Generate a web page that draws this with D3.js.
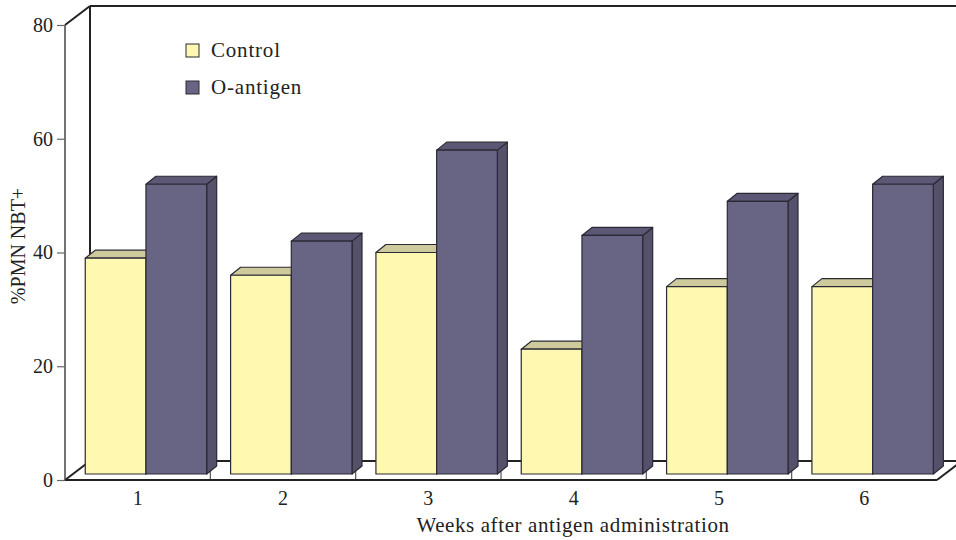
<!DOCTYPE html>
<html>
<head>
<meta charset="utf-8">
<script src="https://cdn.jsdelivr.net/npm/d3@7/dist/d3.min.js"></script>
<style>
  html, body { margin: 0; padding: 0; background: #fff; }
  svg { display: block; }
  text { font-family: "Liberation Serif", "Times New Roman", serif; fill: #222; }
</style>
</head>
<body>
<svg id="chart" width="956" height="540"></svg>
<script>
// ---- data ----
const weeks = ["1", "2", "3", "4", "5", "6"];
const seriesNames = ["Control", "O-antigen"];
const controlValues = [39, 36, 40, 23, 34, 34];
const oAntigenValues = [52, 42, 58, 43, 49, 52];
const yTicks = [0, 20, 40, 60, 80];
const xTitle = "Weeks after antigen administration";
const yTitle = "%PMN NBT+";

const colors = {
  "Control": { front: "#FFF8B0", top: "#CECA9C", side: "#BDB98C" },
  "O-antigen": { front: "#686484", top: "#5B5775", side: "#55516A" }
};

const svg = d3.select("#chart");

// front plane geometry
const x = d3.scaleBand().domain(weeks).range([65, 937]).paddingInner(0).paddingOuter(0);
const xs = d3.scaleBand().domain(seriesNames).range([0, x.bandwidth()]).paddingInner(0).paddingOuter(0.197);
const y = d3.scaleLinear().domain([0, 80]).range([480, 25]);

const wall = { dx: 25, dy: -19 };      // depth of the box
const barShift = { dx: 8.3, dy: -6 };  // bars sit slightly inside the box
const barDepth = { dx: 10, dy: -8 };   // bar thickness

const frame = svg.append("g").attr("fill", "none").attr("stroke", "#222");

// back wall & floor
const x0 = x.range()[0], x1 = x.range()[1];
const yTop = y(80), yBot = y(0);
frame.append("line").attr("x1", x0 + wall.dx).attr("y1", yTop + wall.dy).attr("x2", x0 + wall.dx).attr("y2", yBot + wall.dy).attr("stroke-width", 2);
frame.append("line").attr("x1", x0 + wall.dx).attr("y1", yTop + wall.dy).attr("x2", 956).attr("y2", yTop + wall.dy).attr("stroke-width", 2);
frame.append("line").attr("x1", x0 + wall.dx).attr("y1", yBot + wall.dy).attr("x2", 956).attr("y2", yBot + wall.dy).attr("stroke-width", 2);
frame.append("line").attr("x1", x0).attr("y1", yTop).attr("x2", x0 + wall.dx).attr("y2", yTop + wall.dy).attr("stroke-width", 2);
frame.append("line").attr("x1", x0).attr("y1", yBot).attr("x2", x0 + wall.dx).attr("y2", yBot + wall.dy).attr("stroke-width", 2);
frame.append("line").attr("x1", x1).attr("y1", yBot).attr("x2", x1 + wall.dx).attr("y2", yBot + wall.dy).attr("stroke-width", 2);

// category dividers on floor front edge
weeks.slice(1).forEach(w => {
  frame.append("line").attr("x1", x(w)).attr("x2", x(w)).attr("y1", yBot - 12).attr("y2", yBot)
    .attr("stroke", "#555").attr("stroke-width", 1.2);
});

// bars
const data = weeks.map((w, i) => ({ week: w, values: [
  { s: "Control", v: controlValues[i] },
  { s: "O-antigen", v: oAntigenValues[i] }
]}));

const bars = svg.append("g").attr("stroke", "#2a2a35").attr("stroke-width", 1.2).attr("stroke-linejoin", "round");
data.forEach(d => {
  d.values.forEach(b => {
    const left = x(d.week) + xs(b.s) + barShift.dx;
    const right = left + xs.bandwidth();
    const top = y(b.v);
    const bottom = y(0) + barShift.dy;
    const c = colors[b.s];
    const g = bars.append("g");
    g.append("path").attr("fill", c.side).attr("d",
      `M${right},${top}L${right + barDepth.dx},${top + barDepth.dy}L${right + barDepth.dx},${bottom + barDepth.dy}L${right},${bottom}Z`);
    g.append("path").attr("fill", c.top).attr("d",
      `M${left},${top}L${left + barDepth.dx},${top + barDepth.dy}L${right + barDepth.dx},${top + barDepth.dy}L${right},${top}Z`);
    g.append("rect").attr("x", left).attr("y", top).attr("width", right - left).attr("height", bottom - top).attr("fill", c.front);
  });
});

// front axis lines (on top)
frame.append("line").attr("x1", x0).attr("y1", yBot).attr("x2", x1).attr("y2", yBot).attr("stroke-width", 2.2);
frame.append("line").attr("x1", x0).attr("y1", yTop).attr("x2", x0).attr("y2", yBot).attr("stroke", "#444").attr("stroke-width", 1.5);

// y axis ticks & labels
const yAxis = svg.append("g").attr("transform", `translate(${x0},0)`)
  .call(d3.axisLeft(y).tickValues(yTicks).tickSize(8).tickPadding(4).tickFormat(d3.format("d")));
yAxis.select(".domain").remove();
yAxis.selectAll(".tick line").attr("stroke", "#666").attr("stroke-width", 1.2);
yAxis.selectAll(".tick text").attr("font-size", 20).attr("font-family", "Liberation Serif, serif").attr("fill", "#222");

// x category labels
svg.append("g").selectAll("text").data(weeks).join("text")
  .attr("x", d => x(d) + x.bandwidth() / 2)
  .attr("y", 505)
  .attr("text-anchor", "middle")
  .attr("font-size", 20)
  .text(d => d);

// axis titles
svg.append("text").attr("x", 573).attr("y", 532).attr("text-anchor", "middle").attr("font-size", 21)
  .attr("letter-spacing", 0.6).text(xTitle);
svg.append("text").attr("transform", "translate(25,246) rotate(-90)").attr("text-anchor", "middle").attr("font-size", 20).text(yTitle);

// legend
const legend = svg.append("g");
seriesNames.forEach((s, i) => {
  const ly = 44 + i * 37;
  legend.append("rect").attr("x", 186).attr("y", ly).attr("width", 13).attr("height", 13)
    .attr("fill", colors[s].front).attr("stroke", "#2a2a35").attr("stroke-width", 1);
  legend.append("text").attr("x", 211).attr("y", ly + 13).attr("font-size", 21).attr("letter-spacing", 0.8).text(s);
});
</script>
</body>
</html>
